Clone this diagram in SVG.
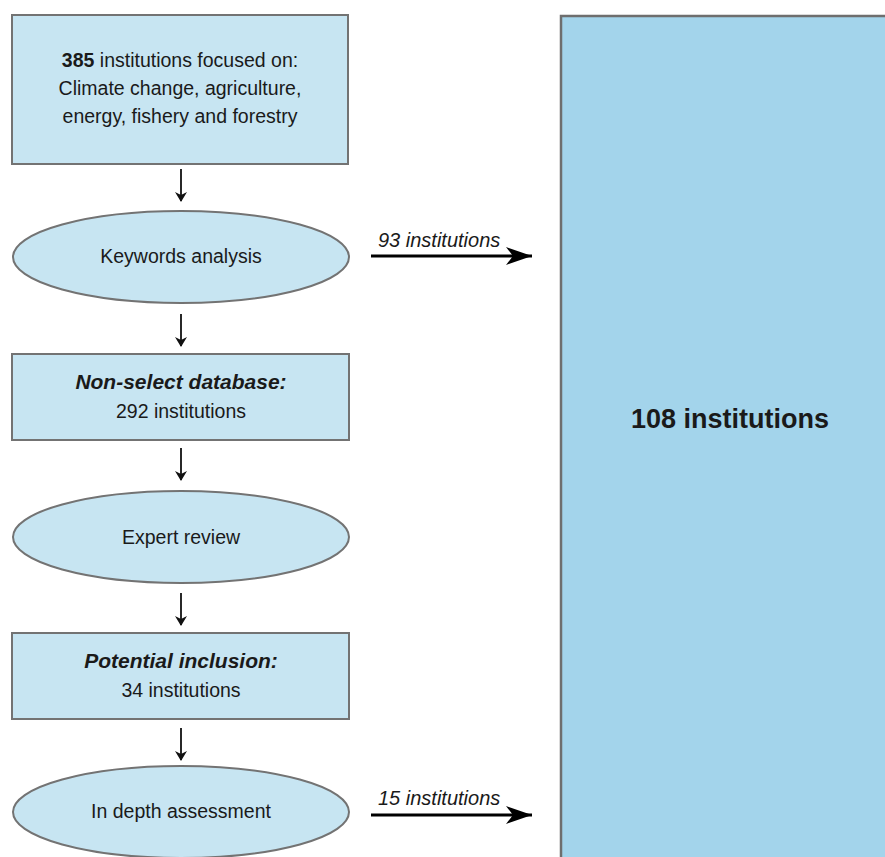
<svg xmlns="http://www.w3.org/2000/svg" width="885" height="857" viewBox="0 0 885 857">
<style>
.n{fill:#c7e5f2;stroke:#737373;stroke-width:2}
.big{fill:#a3d4eb;stroke:#6e6e6e;stroke-width:2.5}
text{font-family:"Liberation Sans",Arial,sans-serif;fill:#1a1a1a;text-anchor:middle}
.t{font-size:19.5px}
.bi{font-weight:bold;font-style:italic;font-size:21px}
.lab{font-style:italic;font-size:20px;text-anchor:start}
.c{stroke:#111;stroke-width:1.8;fill:none}
.h{stroke:#000;stroke-width:3;fill:none}
</style>
<defs>
<marker id="a" markerWidth="10" markerHeight="12" refX="9" refY="6" orient="auto" markerUnits="userSpaceOnUse"><path d="M0,0 L10,6 L0,12 L3,6 Z" fill="#111"/></marker>
<marker id="b" markerWidth="26" markerHeight="18" refX="26" refY="9" orient="auto" markerUnits="userSpaceOnUse"><path d="M0,0 L26,9 L0,18 L7,9 Z" fill="#000"/></marker>
</defs>
<g id="big">
<rect class="big" x="561" y="16" width="330" height="850"/>
<text x="730" y="428" style="font-size:27px;font-weight:bold">108 institutions</text>
</g>
<g id="n1">
<rect class="n" x="12" y="15" width="336" height="149"/>
<text class="t" x="180" y="67"><tspan font-weight="bold">385</tspan> institutions focused on:</text>
<text class="t" x="180" y="95">Climate change, agriculture,</text>
<text class="t" x="180" y="123">energy, fishery and forestry</text>
</g>
<g id="n2">
<ellipse class="n" cx="181" cy="257" rx="168" ry="46"/>
<text class="t" x="181" y="263">Keywords analysis</text>
</g>
<g id="n3">
<rect class="n" x="12" y="354" width="337" height="86"/>
<text class="bi" x="181" y="389">Non-select database:</text>
<text class="t" x="181" y="418">292 institutions</text>
</g>
<g id="n4">
<ellipse class="n" cx="181" cy="537" rx="168" ry="46"/>
<text class="t" x="181" y="544">Expert review</text>
</g>
<g id="n5">
<rect class="n" x="12" y="633" width="337" height="86"/>
<text class="bi" x="181" y="668">Potential inclusion:</text>
<text class="t" x="181" y="697">34 institutions</text>
</g>
<g id="n6">
<ellipse class="n" cx="181" cy="812" rx="168" ry="46"/>
<text class="t" x="181" y="818">In depth assessment</text>
</g>
<g id="connectors">
<line class="c" x1="181" y1="169" x2="181" y2="201" marker-end="url(#a)"/>
<line class="c" x1="181" y1="314" x2="181" y2="346" marker-end="url(#a)"/>
<line class="c" x1="181" y1="448" x2="181" y2="480" marker-end="url(#a)"/>
<line class="c" x1="181" y1="593" x2="181" y2="625" marker-end="url(#a)"/>
<line class="c" x1="181" y1="728" x2="181" y2="760" marker-end="url(#a)"/>
<line class="h" x1="371" y1="256" x2="532" y2="256" marker-end="url(#b)"/>
<line class="h" x1="371" y1="815" x2="532" y2="815" marker-end="url(#b)"/>
<text class="lab" x="378" y="247">93 institutions</text>
<text class="lab" x="378" y="805">15 institutions</text>
</g>
</svg>
